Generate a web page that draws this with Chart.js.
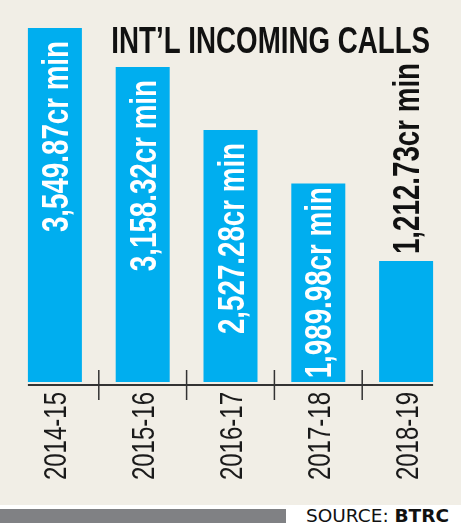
<!DOCTYPE html>
<html>
<head>
<meta charset="utf-8">
<script src="https://cdn.jsdelivr.net/npm/chart.js@4/dist/chart.umd.min.js"></script>
<style>
body{margin:0;background:#fff;}
#wrap{position:relative;width:461px;height:505px;background:#f1eee6;}
#foot{position:relative;width:461px;height:27px;background:#fff;}
#foot .bar{position:absolute;left:0;top:4px;width:286px;height:14px;background:#808184;}
#foot .src{position:absolute;left:306px;top:0;font-family:"DejaVu Sans",sans-serif;font-size:18.5px;line-height:22px;color:#111;}
</style>
</head>
<body>
<div id="wrap"><canvas id="chart"></canvas></div>
<div id="foot"><div class="bar"></div><div class="src">SOURCE: <b>BTRC</b></div></div>
<script>
// Data
const years=["2014-15","2015-16","2016-17","2017-18","2018-19"];
const minutes=[3549.87,3158.32,2527.28,1989.98,1212.73];
const unit="cr min";
const title="INT\u2019L INCOMING CALLS";

// Liberation Sans squeezed sideways to look like a condensed face
const face='"Liberation Sans",Arial,sans-serif';
const squeeze=0.77;

// rotated text, reading bottom to top, end at (x,y) or start at (x,y)
function upText(ctx,txt,cx,y,capH,align,sq){
ctx.save();
ctx.translate(cx+capH/2,y);
ctx.rotate(-Math.PI/2);
ctx.scale(sq,1);
ctx.textAlign=align;
ctx.textBaseline="alphabetic";
ctx.fillText(txt,0,0);
ctx.restore();
}

// axis line, tick marks, category labels, title and value labels
const extras={
id:"extras",
afterDatasetsDraw(chart){
const ctx=chart.ctx;
const area=chart.chartArea;
const xs=chart.scales.x;
const bars=chart.getDatasetMeta(0).data;
ctx.save();

// baseline
let first=bars[0],last=bars[bars.length-1];
ctx.strokeStyle="#333";
ctx.lineWidth=2;
ctx.beginPath();
ctx.moveTo(first.x-first.width/2,area.bottom+3);
ctx.lineTo(last.x+last.width/2,area.bottom+3);
ctx.stroke();

// tick marks between categories
ctx.lineWidth=1.5;
for(let i=0;i<years.length-1;i++){
let mx=(xs.getPixelForValue(i)+xs.getPixelForValue(i+1))/2;
ctx.beginPath();
ctx.moveTo(mx,area.bottom-12);
ctx.lineTo(mx,area.bottom+18);
ctx.stroke();
}

// category labels
ctx.fillStyle="#1a1a1a";
ctx.font="32px "+face;
years.forEach((y,i)=>{
upText(ctx,y,xs.getPixelForValue(i),area.bottom+10,23,"right",0.75);
});

// value labels: inside the bar when it fits, else above it
ctx.font="bold 36px "+face;
const capH=26;
bars.forEach((b,i)=>{
let txt=minutes[i].toLocaleString("en-US",{minimumFractionDigits:2,maximumFractionDigits:2})+unit;
let len=ctx.measureText(txt).width*squeeze;
let h=b.base-b.y;
if(h>len+6){
let gap=Math.min(13,(h-len)/2);
ctx.fillStyle="#fff";
upText(ctx,txt,b.x,b.y+gap,capH,"right",squeeze);
}else{
ctx.fillStyle="#111";
upText(ctx,txt,b.x,b.y-7,capH,"left",squeeze);
}
});

// title
ctx.fillStyle="#111";
ctx.font="bold 36px "+face;
ctx.translate(last.x+last.width/2-3,53);
ctx.scale(squeeze,1);
ctx.textAlign="right";
ctx.textBaseline="alphabetic";
ctx.fillText(title,0,0);
ctx.restore();
}
};

new Chart(document.getElementById("chart"),{
type:"bar",
data:{
labels:years,
datasets:[{data:minutes,backgroundColor:"#00aeef",barPercentage:0.615,categoryPercentage:1}]
},
options:{
responsive:true,
maintainAspectRatio:false,
animation:false,
layout:{padding:{left:11,right:11,top:28,bottom:123}},
plugins:{legend:{display:false},tooltip:{enabled:false}},
scales:{
y:{display:false,min:0,max:Math.max(...minutes)},
x:{display:false}
}
},
plugins:[extras]
});
</script>
</body>
</html>
